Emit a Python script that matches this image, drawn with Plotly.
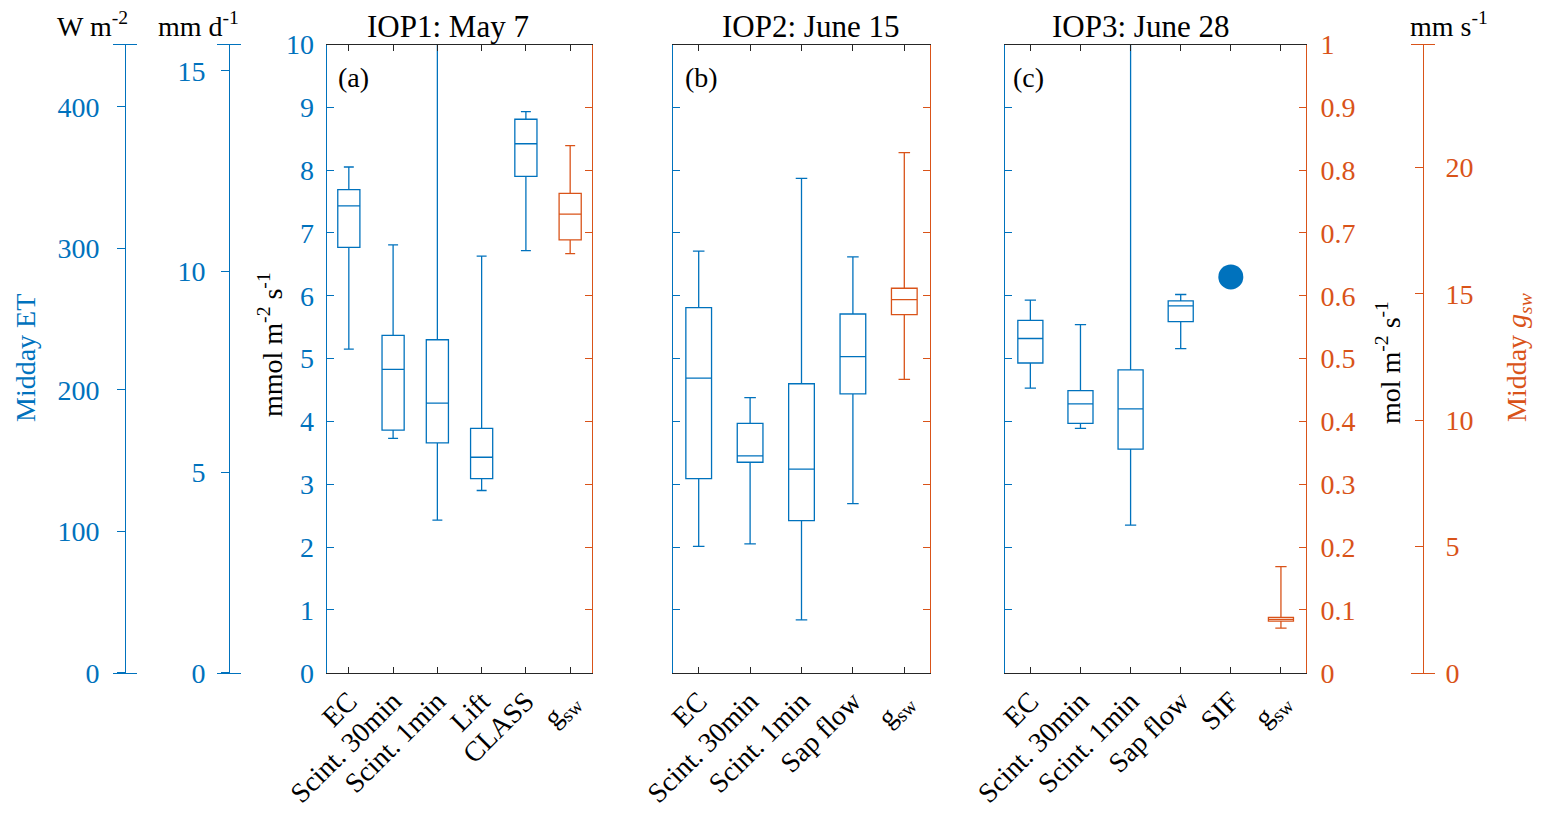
import plotly.graph_objects as go

BLUE = "#0072BD"
ORANGE = "#D95319"
GRAY = "#262626"
FONT = "Liberation Serif"
PAGE_W, PAGE_H = 1548, 819
BODY_MARGIN = 8  # default browser body margin
W, H = PAGE_W - 2 * BODY_MARGIN, PAGE_H - 2 * BODY_MARGIN

# ---------------- data ----------------
titles = ["IOP1: May 7", "IOP2: June 15", "IOP3: June 28"]
panel_tags = ["(a)", "(b)", "(c)"]

cats_a = ["EC", "Scint. 30min", "Scint. 1min", "Lift", "CLASS", "g<sub>sw</sub>"]
a_q1 = [6.77, 3.86, 3.66, 3.09, 7.90]
a_med = [7.43, 4.83, 4.29, 3.43, 8.42]
a_q3 = [7.69, 5.37, 5.30, 3.89, 8.81]
a_lo = [5.15, 3.73, 2.43, 2.90, 6.72]
a_hi = [8.05, 6.81, 11.5, 6.63, 8.93]
gsw_a = [0.667, 0.689, 0.730, 0.763, 0.839]  # lo, q1, med, q3, hi (mol m-2 s-1)

cats_b = ["EC", "Scint. 30min", "Scint. 1min", "Sap flow", "g<sub>sw</sub>"]
b_q1 = [3.09, 3.35, 2.42, 4.44]
b_med = [4.69, 3.45, 3.24, 5.03]
b_q3 = [5.81, 3.97, 4.60, 5.71]
b_lo = [2.01, 2.05, 0.84, 2.69]
b_hi = [6.71, 4.38, 7.87, 6.62]
gsw_b = [0.467, 0.570, 0.594, 0.612, 0.828]

cats_c = ["EC", "Scint. 30min", "Scint. 1min", "Sap flow", "SIF", "g<sub>sw</sub>"]
c_q1 = [4.93, 3.97, 3.56, 5.59]
c_med = [5.32, 4.28, 4.20, 5.84]
c_q3 = [5.61, 4.49, 4.82, 5.92]
c_lo = [4.53, 3.89, 2.35, 5.16]
c_hi = [5.93, 5.54, 11.5, 6.02]
sif_c = [6.30]
gsw_c = [0.071, 0.082, 0.085, 0.088, 0.169]

mmol_ticks = list(range(0, 11))
mol_ticks = [0, 0.1, 0.2, 0.3, 0.4, 0.5, 0.6, 0.7, 0.8, 0.9, 1]
mol_ticktext = ["0", "0.1", "0.2", "0.3", "0.4", "0.5", "0.6", "0.7", "0.8", "0.9", "1"]
wm2_ticks = [0, 100, 200, 300, 400]
mmd_ticks = [0, 5, 10, 15]
mms_ticks = [0, 5, 10, 15, 20]
MMOL_MAX = 10
MOL_MAX = 1
WM2_MAX = 444
MMD_MAX = 15.66
MMS_MAX = 24.87

# ---------------- geometry (page pixels -> paper) ----------------
def px(x):
    return (x - BODY_MARGIN) / W

def py(y):
    return 1 - (y - BODY_MARGIN) / H

YDOM = [py(672.7), py(44.5)]
dom_a = [px(326.7), px(592.3)]
dom_b = [px(673.0), px(930.0)]
dom_c = [px(1005.3), px(1306.0)]

fig = go.Figure()

box_common = dict(width=0.5, whiskerwidth=0.45, fillcolor="rgba(0,0,0,0)",
                  boxpoints=False, showlegend=False, hoverinfo="skip")


def add_panel(xa, ya, ya2, n, q1, med, q3, lo, hi, gsw, gpos):
    xs = list(range(1, n + 1))
    fig.add_trace(go.Box(x=xs, q1=q1, median=med, q3=q3, lowerfence=lo, upperfence=hi,
                         xaxis=xa, yaxis=ya, line=dict(color=BLUE, width=1.3), **box_common))
    fig.add_trace(go.Box(x=[gpos], lowerfence=[gsw[0]], q1=[gsw[1]], median=[gsw[2]],
                         q3=[gsw[3]], upperfence=[gsw[4]], xaxis=xa, yaxis=ya2,
                         line=dict(color=ORANGE, width=1.3), **box_common))


add_panel("x", "y", "y2", 5, a_q1, a_med, a_q3, a_lo, a_hi, gsw_a, 6)
add_panel("x3", "y3", "y4", 4, b_q1, b_med, b_q3, b_lo, b_hi, gsw_b, 5)
add_panel("x5", "y5", "y6", 4, c_q1, c_med, c_q3, c_lo, c_hi, gsw_c, 6)
fig.add_trace(go.Scatter(x=[5], y=sif_c, mode="markers", xaxis="x5", yaxis="y5",
                         marker=dict(color=BLUE, size=25), showlegend=False, hoverinfo="skip"))

# dummy traces for the stand-alone unit axes
for xa, ya in [("x7", "y7"), ("x8", "y8"), ("x9", "y9")]:
    fig.add_trace(go.Scatter(x=[None], y=[None], xaxis=xa, yaxis=ya, showlegend=False,
                             hoverinfo="skip"))


def xaxis(dom, anchor, cats):
    return dict(domain=dom, anchor=anchor, range=[0.5, len(cats) + 0.5],
                tickvals=list(range(1, len(cats) + 1)), ticktext=cats, tickangle=-45,
                ticks="inside", ticklen=6, tickcolor=GRAY, showline=True, linecolor=GRAY,
                linewidth=1, mirror="ticks", showgrid=False, zeroline=False,
                automargin=False, ticklabelstandoff=0,
                tickfont=dict(family=FONT, size=28, color="black"), fixedrange=True)


def yleft(anchor, labels):
    return dict(domain=YDOM, anchor=anchor, range=[0, MMOL_MAX], tickvals=mmol_ticks,
                ticks="inside", ticklen=7, tickcolor=BLUE, showline=True, linecolor=BLUE,
                linewidth=1, showgrid=False, zeroline=False, showticklabels=labels,
                ticklabelstandoff=6, automargin=False,
                tickfont=dict(family=FONT, size=28, color=BLUE))


def yright(anchor, overlay, labels):
    return dict(domain=YDOM, anchor=anchor, overlaying=overlay, side="right",
                range=[0, MOL_MAX], tickvals=mol_ticks, ticktext=mol_ticktext,
                ticks="inside", ticklen=7, tickcolor=ORANGE, showline=True,
                linecolor=ORANGE, linewidth=1, showgrid=False, zeroline=False,
                showticklabels=labels, ticklabelstandoff=8, automargin=False,
                tickfont=dict(family=FONT, size=28, color=ORANGE))


def capx(c):
    return dict(domain=[px(c - 12), px(c + 12)], range=[0, 1], showline=True,
                mirror=True, showticklabels=False, ticks="", showgrid=False,
                zeroline=False, fixedrange=True, automargin=False)


fig.update_layout(
    width=W, height=H, margin=dict(l=0, r=0, t=0, b=0, autoexpand=False),
    paper_bgcolor="white", plot_bgcolor="rgba(0,0,0,0)",
    font=dict(family=FONT, size=28, color="black"),
    xaxis=xaxis(dom_a, "y", cats_a),
    yaxis=yleft("x", True),
    yaxis2=yright("x", "y", False),
    xaxis3=xaxis(dom_b, "y3", cats_b),
    yaxis3=yleft("x3", False),
    yaxis4=yright("x3", "y3", False),
    xaxis5=xaxis(dom_c, "y5", cats_c),
    yaxis5=yleft("x5", False),
    yaxis6=yright("x5", "y5", True),
    xaxis7={**capx(125), "anchor": "y7", "linecolor": BLUE},
    yaxis7=dict(domain=YDOM, anchor="free", position=px(125), range=[0, WM2_MAX],
                tickvals=wm2_ticks, ticks="outside", ticklen=8, tickcolor=BLUE,
                showline=True, linecolor=BLUE, showgrid=False, zeroline=False,
                ticklabelstandoff=12, automargin=False,
                tickfont=dict(family=FONT, size=28, color=BLUE)),
    xaxis8={**capx(229), "anchor": "y8", "linecolor": BLUE},
    yaxis8=dict(domain=YDOM, anchor="free", position=px(229), range=[0, MMD_MAX],
                tickvals=mmd_ticks, ticks="outside", ticklen=8, tickcolor=BLUE,
                showline=True, linecolor=BLUE, showgrid=False, zeroline=False,
                ticklabelstandoff=10, automargin=False,
                tickfont=dict(family=FONT, size=28, color=BLUE)),
    xaxis9={**capx(1423), "anchor": "y9", "linecolor": ORANGE},
    yaxis9=dict(domain=YDOM, anchor="free", position=px(1423), side="right",
                range=[0, MMS_MAX], tickvals=mms_ticks, ticks="inside", ticklen=8,
                tickcolor=ORANGE, showline=True, linecolor=ORANGE, showgrid=False,
                zeroline=False, ticklabelstandoff=16, automargin=False,
                tickfont=dict(family=FONT, size=28, color=ORANGE)),
)

ann = []
for t, cx in zip(titles, [448, 810, 1140]):
    ann.append(dict(text=t, x=px(cx), y=py(27), font=dict(size=31)))
for t, cx in zip(panel_tags, [353, 701, 1028]):
    ann.append(dict(text=t, x=px(cx), y=py(77), font=dict(size=28)))
ann += [
    dict(text="W m<sup>-2</sup>", x=px(92), y=py(25)),
    dict(text="mm d<sup>-1</sup>", x=px(198), y=py(25)),
    dict(text="mm s<sup>-1</sup>", x=px(1449), y=py(25)),
    dict(text="Midday ET", x=px(25), y=py(358), textangle=-90, font=dict(color=BLUE)),
    dict(text="mmol m<sup>-2</sup> s<sup>-1</sup>", x=px(270), y=py(345), textangle=-90),
    dict(text="mol m<sup>-2</sup> s<sup>-1</sup>", x=px(1388), y=py(363), textangle=-90),
    dict(text="Midday <i>g</i><sub><i>sw</i></sub>", x=px(1518), y=py(358), textangle=-90,
         font=dict(color=ORANGE)),
]
for a in ann:
    a.update(xref="paper", yref="paper", showarrow=False, xanchor="center", yanchor="middle")
    f = dict(family=FONT, size=28)
    f.update(a.get("font", {}))
    a["font"] = f
fig.update_layout(annotations=ann)

fig.write_html("out.html")
